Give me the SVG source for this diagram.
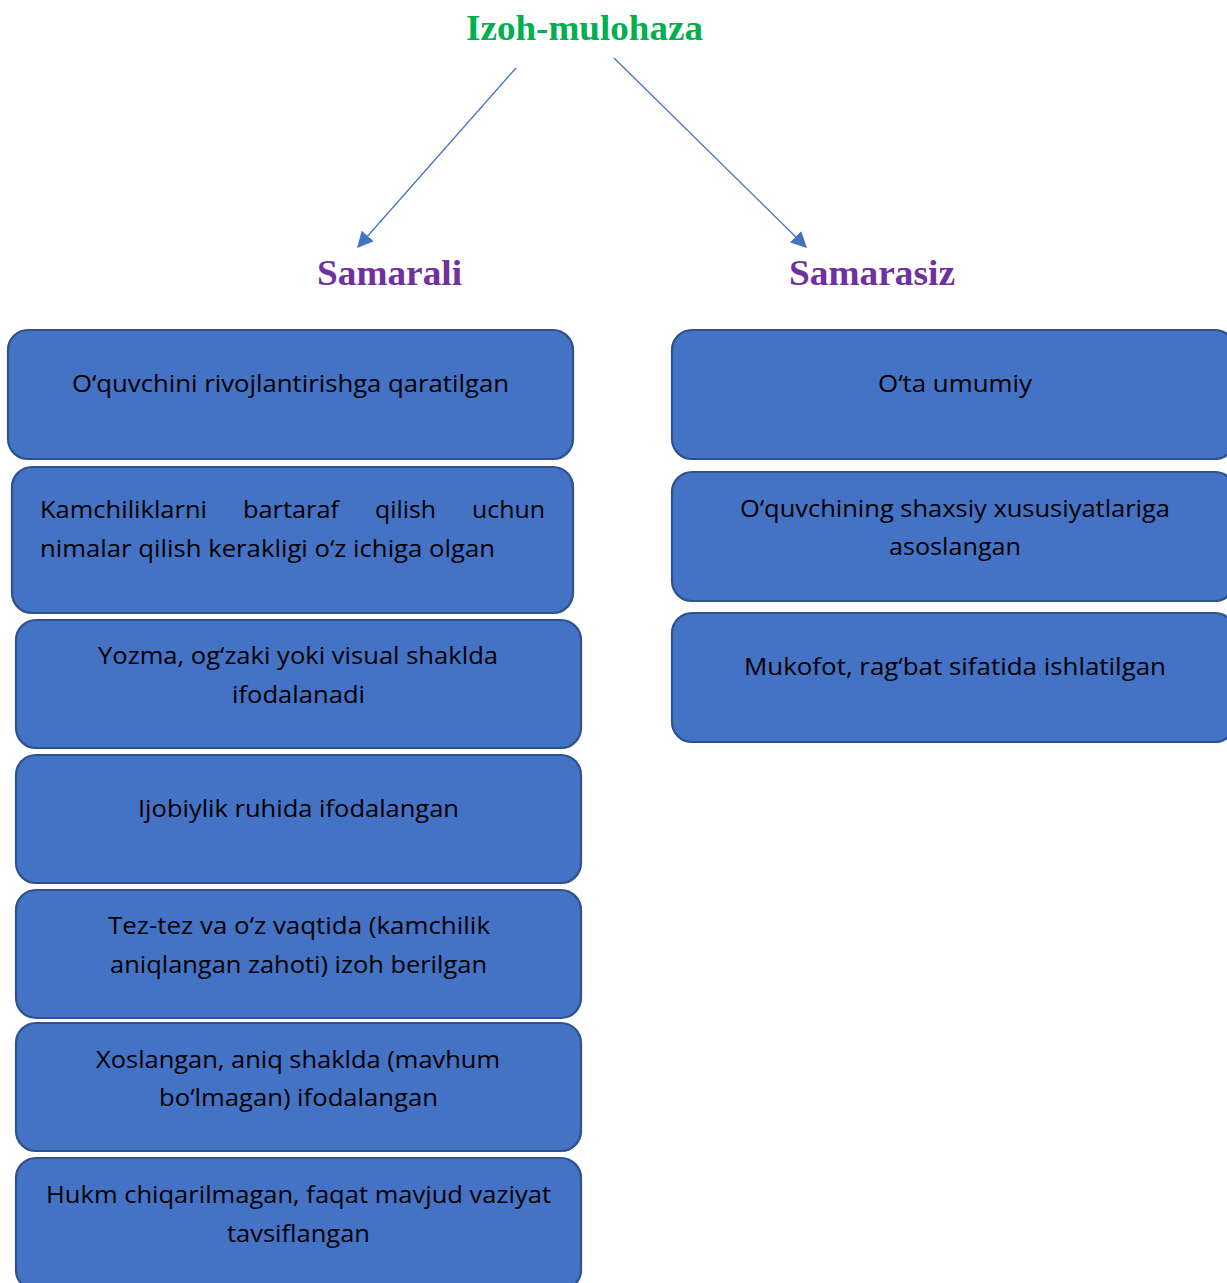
<svg xmlns="http://www.w3.org/2000/svg" width="1227" height="1283" viewBox="0 0 1227 1283">
<style>
.box{fill:#4472C4;stroke:#2F528F;stroke-width:2.2}
.t{font-family:"Open Sans","Liberation Sans",sans-serif;font-size:24px;fill:#000;text-anchor:middle}
.tl{font-family:"Open Sans","Liberation Sans",sans-serif;font-size:24px;fill:#000}
.title{font-family:"Liberation Serif",serif;font-weight:bold;font-size:36px;fill:#00B050;text-anchor:middle}
.head{font-family:"Liberation Serif",serif;font-weight:bold;font-size:36px;fill:#7030A0;text-anchor:middle}
.conn{stroke:#4472C4;stroke-width:1.3;fill:none}
</style>
<defs>
<marker id="ah2" viewBox="0 0 12 12" refX="11" refY="6" markerWidth="16" markerHeight="16" markerUnits="userSpaceOnUse" orient="auto">
<path d="M0,0 L12,6 L0,12 z" fill="#4472C4"/>
</marker>
</defs>
<rect width="1227" height="1283" fill="#fff"/>
<g id="title"><text class="title" x="584.5" y="40" textLength="237" lengthAdjust="spacingAndGlyphs">Izoh-mulohaza</text></g>
<g id="samarali"><text class="head" x="389.5" y="285" textLength="145" lengthAdjust="spacingAndGlyphs">Samarali</text></g>
<g id="samarasiz"><text class="head" x="872" y="285" textLength="166" lengthAdjust="spacingAndGlyphs">Samarasiz</text></g>
<g id="connectors">
<line class="conn" x1="516" y1="68" x2="358" y2="247" marker-end="url(#ah2)"/>
<line class="conn" x1="614" y1="58" x2="806" y2="247" marker-end="url(#ah2)"/>
</g>
<g id="l1"><rect class="box" x="8" y="330" width="565" height="129" rx="20"/>
<text class="t" x="290.5" y="392" textLength="437" lengthAdjust="spacingAndGlyphs">O‘quvchini rivojlantirishga qaratilgan</text></g>
<g id="l2"><rect class="box" x="12" y="467" width="561" height="146" rx="20"/>
<text class="tl" x="40" y="518" textLength="167" lengthAdjust="spacingAndGlyphs">Kamchiliklarni</text>
<text class="tl" x="243" y="518" textLength="96" lengthAdjust="spacingAndGlyphs">bartaraf</text>
<text class="tl" x="375" y="518" textLength="61" lengthAdjust="spacingAndGlyphs">qilish</text>
<text class="tl" x="472" y="518" textLength="73" lengthAdjust="spacingAndGlyphs">uchun</text>
<text class="tl" x="40" y="557" textLength="455" lengthAdjust="spacingAndGlyphs">nimalar qilish kerakligi o‘z ichiga olgan</text></g>
<g id="l3"><rect class="box" x="16" y="620" width="565" height="128" rx="20"/>
<text class="t" x="298" y="664" textLength="400" lengthAdjust="spacingAndGlyphs">Yozma, og‘zaki yoki visual shaklda</text>
<text class="t" x="298.5" y="703" textLength="133" lengthAdjust="spacingAndGlyphs">ifodalanadi</text></g>
<g id="l4"><rect class="box" x="16" y="755" width="565" height="128" rx="20"/>
<text class="t" x="298.5" y="817" textLength="321" lengthAdjust="spacingAndGlyphs">Ijobiylik ruhida ifodalangan</text></g>
<g id="l5"><rect class="box" x="16" y="890" width="565" height="128" rx="20"/>
<text class="t" x="299" y="934" textLength="382" lengthAdjust="spacingAndGlyphs">Tez-tez va o‘z vaqtida (kamchilik</text>
<text class="t" x="298.5" y="973" textLength="377" lengthAdjust="spacingAndGlyphs">aniqlangan zahoti) izoh berilgan</text></g>
<g id="l6"><rect class="box" x="16" y="1023" width="565" height="128" rx="20"/>
<text class="t" x="298" y="1068" textLength="404" lengthAdjust="spacingAndGlyphs">Xoslangan, aniq shaklda (mavhum</text>
<text class="t" x="298.5" y="1106" textLength="279" lengthAdjust="spacingAndGlyphs">bo‘lmagan) ifodalangan</text></g>
<g id="l7"><rect class="box" x="16" y="1158" width="565" height="132" rx="20"/>
<text class="t" x="298.5" y="1203" textLength="505" lengthAdjust="spacingAndGlyphs">Hukm chiqarilmagan, faqat mavjud vaziyat</text>
<text class="t" x="298.5" y="1242" textLength="143" lengthAdjust="spacingAndGlyphs">tavsiflangan</text></g>
<g id="r1"><rect class="box" x="672" y="330" width="563" height="129" rx="20"/>
<text class="t" x="955" y="392" textLength="154" lengthAdjust="spacingAndGlyphs">O‘ta umumiy</text></g>
<g id="r2"><rect class="box" x="672" y="472" width="563" height="129" rx="20"/>
<text class="t" x="955" y="517" textLength="430" lengthAdjust="spacingAndGlyphs">O‘quvchining shaxsiy xususiyatlariga</text>
<text class="t" x="955" y="555" textLength="132" lengthAdjust="spacingAndGlyphs">asoslangan</text></g>
<g id="r3"><rect class="box" x="672" y="613" width="563" height="129" rx="20"/>
<text class="t" x="955" y="675" textLength="422" lengthAdjust="spacingAndGlyphs">Mukofot, rag‘bat sifatida ishlatilgan</text></g>
</svg>
